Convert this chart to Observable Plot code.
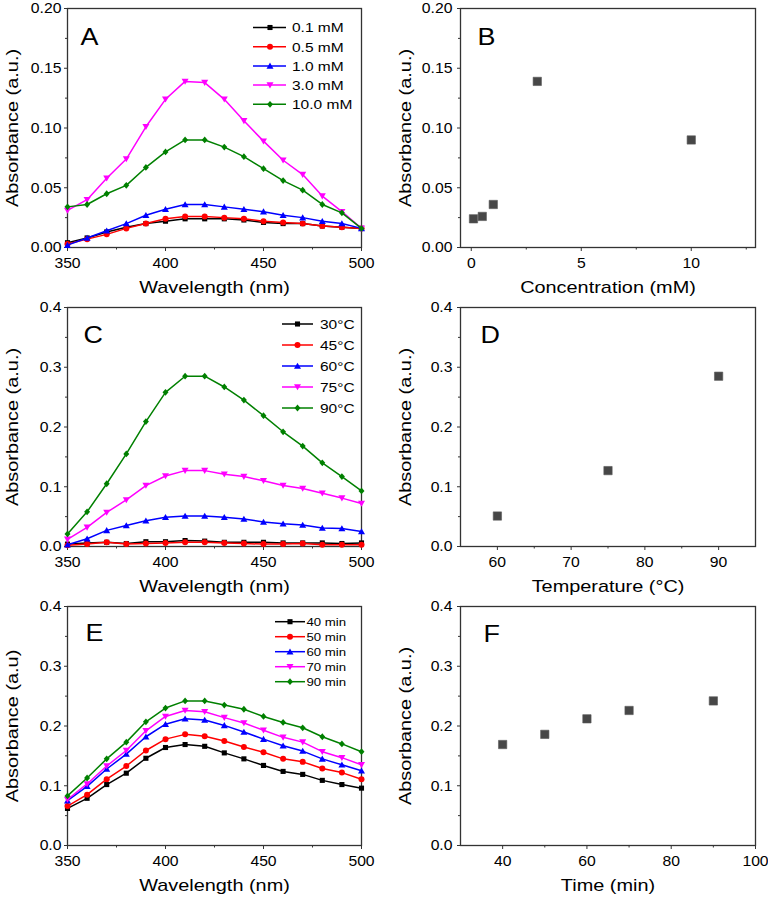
<!DOCTYPE html>
<html><head><meta charset="utf-8">
<script src="https://cdn.jsdelivr.net/npm/d3@7"></script>
<script src="https://cdn.jsdelivr.net/npm/@observablehq/plot@0.6"></script>
<style>
body{margin:0;background:#fff;}
#fig{position:relative;width:768px;height:901px;font-family:Arial,"Liberation Sans",sans-serif;background:#fff;}
.panel{position:absolute;width:384px;height:299px;}
.panel svg{position:absolute;left:0;top:0;overflow:visible;}
</style></head><body><div id="fig"></div>
<script>
// ---------- data ----------
const wavelengths = [350,360,370,380,390,400,410,420,430,440,450,460,470,480,490,500];

const concLabels = ["0.1 mM","0.5 mM","1.0 mM","3.0 mM","10.0 mM"];
const a01  = [0.004,0.008,0.013,0.017,0.020,0.022,0.024,0.024,0.024,0.023,0.021,0.020,0.020,0.018,0.017,0.016];
const a05  = [0.003,0.007,0.011,0.016,0.020,0.024,0.026,0.026,0.025,0.024,0.022,0.021,0.020,0.018,0.017,0.016];
const a10  = [0.002,0.008,0.014,0.020,0.027,0.032,0.036,0.036,0.034,0.032,0.030,0.027,0.025,0.022,0.020,0.016];
const a30  = [0.031,0.040,0.058,0.074,0.101,0.124,0.139,0.138,0.124,0.106,0.089,0.073,0.061,0.043,0.030,0.016];
const a100 = [0.034,0.036,0.045,0.052,0.067,0.080,0.090,0.090,0.084,0.076,0.066,0.056,0.048,0.036,0.029,0.016];

const tempLabels = ["30°C","45°C","60°C","75°C","90°C"];
const t30 = [0.004,0.006,0.007,0.005,0.008,0.008,0.010,0.009,0.007,0.007,0.007,0.006,0.006,0.006,0.005,0.006];
const t45 = [0.002,0.004,0.007,0.004,0.005,0.006,0.007,0.007,0.006,0.005,0.004,0.004,0.005,0.003,0.003,0.003];
const t60 = [0.003,0.013,0.027,0.035,0.043,0.049,0.051,0.051,0.049,0.046,0.041,0.038,0.036,0.031,0.030,0.025];
const t75 = [0.012,0.032,0.057,0.078,0.102,0.118,0.127,0.127,0.121,0.117,0.110,0.102,0.097,0.089,0.081,0.072];
const t90 = [0.021,0.058,0.105,0.155,0.209,0.258,0.285,0.285,0.267,0.245,0.219,0.192,0.168,0.140,0.117,0.093];

const timeLabels = ["40 min","50 min","60 min","70 min","90 min"];
const m40 = [0.062,0.079,0.102,0.121,0.146,0.164,0.169,0.166,0.155,0.145,0.134,0.124,0.119,0.109,0.102,0.096];
const m50 = [0.066,0.085,0.111,0.133,0.159,0.178,0.186,0.183,0.175,0.165,0.156,0.145,0.140,0.129,0.122,0.111];
const m60 = [0.075,0.099,0.128,0.153,0.182,0.203,0.212,0.210,0.201,0.190,0.178,0.167,0.158,0.145,0.135,0.125];
const m70 = [0.077,0.103,0.133,0.159,0.192,0.216,0.226,0.224,0.214,0.205,0.193,0.181,0.173,0.157,0.147,0.135];
const m90 = [0.083,0.113,0.145,0.173,0.207,0.230,0.242,0.242,0.235,0.228,0.216,0.206,0.197,0.182,0.170,0.157];

const concValues = [0.1,0.5,1,3,10];
const peakConc   = [0.024,0.026,0.036,0.139,0.090];
const tempValues = [60,75,90];
const peakTemp   = [0.051,0.127,0.285];
const timeValues = [40,50,60,70,90];
const peakTime   = [0.169,0.186,0.212,0.226,0.242];

const yTicksA = [0,0.05,0.10,0.15,0.20];
const yMinorA = [0.025,0.075,0.125,0.175];
const yTicks4 = [0,0.1,0.2,0.3,0.4];
const yMinor4 = [0.05,0.15,0.25,0.35];
const wlTicks = [350,400,450,500];
const wlMinor = [375,425,475];

// ---------- style ----------
const colors = ["#000000","#ff0000","#0000ff","#ff00ff","#008000"];
const FONT = 'Arial, "Liberation Sans", sans-serif';
const AX = "#333";

const symSquare = {draw(c,s){const w=Math.sqrt(s)*0.48; c.moveTo(-w,-w); c.lineTo(w,-w); c.lineTo(w,w); c.lineTo(-w,w); c.closePath();}};
const symBig = {draw(c,s){const w=Math.sqrt(s)*0.5; c.moveTo(-w,-w); c.lineTo(w,-w); c.lineTo(w,w); c.lineTo(-w,w); c.closePath();}};
const symCircle = {draw(c,s){const r=Math.sqrt(s/Math.PI); c.moveTo(r,0); c.arc(0,0,r,0,2*Math.PI);}};
const symTriUp = {draw(c,s){const q=Math.sqrt(s); c.moveTo(0,-0.62*q); c.lineTo(0.66*q,0.52*q); c.lineTo(-0.66*q,0.52*q); c.closePath();}};
const symTriDown = {draw(c,s){const q=Math.sqrt(s); c.moveTo(0,0.62*q); c.lineTo(0.66*q,-0.52*q); c.lineTo(-0.66*q,-0.52*q); c.closePath();}};
const symDiamond = {draw(c,s){const q=Math.sqrt(s); c.moveTo(0,-0.64*q); c.lineTo(0.56*q,0); c.lineTo(0,0.64*q); c.lineTo(-0.56*q,0); c.closePath();}};
const symbols = [symSquare, symCircle, symTriUp, symTriDown, symDiamond];

const fig = document.getElementById("fig");

// widen glyphs horizontally around each text's own anchor (reference font is wide)
function stretch(svg, sel, s){
  svg.querySelectorAll(sel).forEach(t => {
    const tr = t.getAttribute("transform") || "";
    let pre = "";
    const xa = t.getAttribute("x");
    if (xa != null && /^\s*-?[\d.]+(e[-+]?\d+)?\s*$/i.test(xa)) {
      pre = `translate(${parseFloat(xa)},0)`;
      t.removeAttribute("x");
    }
    t.setAttribute("transform", `${tr} ${pre} scale(${s},1)`.trim());
  });
}

function commonMarks(o){
  return [
    Plot.frame({stroke: AX, strokeWidth: 1.3}),
    Plot.axisX({ticks: o.xTicks, tickSize: 4, tickPadding: 6, tickFormat: d => String(d), fontSize: 15, label: null, stroke: AX, fill: "black"}),
    Plot.axisX({ticks: o.xMinor, tickSize: 2.5, tickFormat: () => "", label: null, stroke: AX}),
    Plot.axisY({ticks: o.yTicks, tickSize: 3, tickPadding: o.yPad, tickFormat: d3.format(o.yFmt), fontSize: 15, label: null, stroke: AX, fill: "black"}),
    Plot.axisY({ticks: o.yMinor, tickSize: 2, tickFormat: () => "", label: null, stroke: AX}),
    Plot.text([o.xTitle], {frameAnchor: "bottom", dy: 40, fontSize: 17, textAnchor: "middle", lineAnchor: "middle", fill: "black"}),
    Plot.text([o.yTitle], {frameAnchor: "left", dx: -55, rotate: -90, fontSize: 17, textAnchor: "middle", lineAnchor: "middle", fill: "black"}),
    Plot.text([o.letter], {frameAnchor: "top-left", dx: o.lx, dy: o.ly, fontSize: 23, textAnchor: "start", lineAnchor: "top", fill: "black"})
  ];
}

function makePanel(o, dataMarks){
  const div = document.createElement("div");
  div.className = "panel";
  div.style.left = o.left + "px"; div.style.top = o.top + "px";
  fig.appendChild(div);
  const right = o.left > 0;
  const svg = Plot.plot({
    width: 384, height: 299,
    marginLeft: right ? 76 : 67, marginRight: right ? 13 : 23,
    marginTop: 8, marginBottom: 52,
    style: {fontFamily: FONT, fontSize: "15px", background: "white", color: "black"},
    x: {domain: o.xDomain},
    y: {domain: o.yDomain},
    marks: [...commonMarks(o), ...dataMarks]
  });
  div.appendChild(svg);
  stretch(svg, 'g[aria-label="text"] text', 1.17);
  stretch(svg, 'g[aria-label="y-axis tick label"] text', 1.05);
  stretch(svg, 'g[aria-label="x-axis tick label"] text', 1.05);
  return div;
}

function spectrumMarks(series){
  const marks = [];
  series.forEach((vals, k) => {
    const d = vals.map((v, i) => ({wl: wavelengths[i], v}));
    marks.push(Plot.line(d, {x: "wl", y: "v", stroke: colors[k], strokeWidth: 1.5}));
    marks.push(Plot.dot(d, {x: "wl", y: "v", symbol: symbols[k], fill: colors[k], stroke: "none", r: 3}));
  });
  return marks;
}

function scatterMarks(xs, ys){
  const d = xs.map((x, i) => ({x, y: ys[i]}));
  return [Plot.dot(d, {x: "x", y: "y", symbol: symBig, fill: "#474747", stroke: "#5a5a5a", strokeWidth: 0.6, r: 4.7})];
}

function addLegend(div, labels, L){
  const svg = d3.select(div).append("svg").attr("width", 384).attr("height", 299)
    .style("pointer-events", "none").style("font-family", FONT);
  labels.forEach((lab, k) => {
    const y = L.y0 + k * L.dy;
    svg.append("line").attr("x1", L.x1).attr("x2", L.x2).attr("y1", y).attr("y2", y)
      .attr("stroke", colors[k]).attr("stroke-width", 1.5);
    svg.append("path").attr("transform", `translate(${L.xm},${y})`)
      .attr("d", d3.symbol(symbols[k], Math.PI * 9)()).attr("fill", colors[k]);
    svg.append("text").attr("transform", `translate(${L.xt},${y}) scale(1.15,1)`)
      .attr("dy", "0.36em").attr("font-size", L.fs).attr("fill", "black").text(lab);
  });
}

// ---------- panels ----------
const pA = makePanel({left: 0, top: 0, xDomain: [350,500], yDomain: [0,0.2], xTicks: wlTicks, xMinor: wlMinor,
  yTicks: yTicksA, yMinor: yMinorA, yFmt: ".2f", yPad: 3, xTitle: "Wavelength (nm)", yTitle: "Absorbance (a.u.)",
  letter: "A", lx: 13, ly: 20}, spectrumMarks([a01, a05, a10, a30, a100]));
addLegend(pA, concLabels, {x1: 253, x2: 286, xm: 270, xt: 292, y0: 27.5, dy: 19.2, fs: 13.5});

makePanel({left: 384, top: 0, xDomain: [-0.49,12.92], yDomain: [0,0.2], xTicks: [0,5,10], xMinor: [2.5,7.5,12.5],
  yTicks: yTicksA, yMinor: yMinorA, yFmt: ".2f", yPad: 5, xTitle: "Concentration (mM)", yTitle: "Absorbance (a.u.)",
  letter: "B", lx: 17, ly: 20}, scatterMarks(concValues, peakConc));

const pC = makePanel({left: 0, top: 299, xDomain: [350,500], yDomain: [0,0.4], xTicks: wlTicks, xMinor: wlMinor,
  yTicks: yTicks4, yMinor: yMinor4, yFmt: ".1f", yPad: 3, xTitle: "Wavelength (nm)", yTitle: "Absorbance (a.u.)",
  letter: "C", lx: 16, ly: 19}, spectrumMarks([t30, t45, t60, t75, t90]));
addLegend(pC, tempLabels, {x1: 282, x2: 313, xm: 297.5, xt: 320, y0: 25, dy: 21, fs: 13.5});

makePanel({left: 384, top: 299, xDomain: [55,95], yDomain: [0,0.4], xTicks: [60,70,80,90], xMinor: [65,75,85],
  yTicks: yTicks4, yMinor: yMinor4, yFmt: ".1f", yPad: 5, xTitle: "Temperature (°C)", yTitle: "Absorbance (a.u.)",
  letter: "D", lx: 20, ly: 19}, scatterMarks(tempValues, peakTemp));

const pE = makePanel({left: 0, top: 598, xDomain: [350,500], yDomain: [0,0.4], xTicks: wlTicks, xMinor: wlMinor,
  yTicks: yTicks4, yMinor: yMinor4, yFmt: ".1f", yPad: 3, xTitle: "Wavelength (nm)", yTitle: "Absorbance (a.u)",
  letter: "E", lx: 18, ly: 18}, spectrumMarks([m40, m50, m60, m70, m90]));
addLegend(pE, timeLabels, {x1: 275, x2: 305, xm: 290, xt: 306.5, y0: 23.7, dy: 15, fs: 11.5});

makePanel({left: 384, top: 598, xDomain: [30,100], yDomain: [0,0.4], xTicks: [40,60,80,100], xMinor: [50,70,90],
  yTicks: yTicks4, yMinor: yMinor4, yFmt: ".1f", yPad: 5, xTitle: "Time (min)", yTitle: "Absorbance (a.u.)",
  letter: "F", lx: 23, ly: 19}, scatterMarks(timeValues, peakTime));
</script></body></html>
